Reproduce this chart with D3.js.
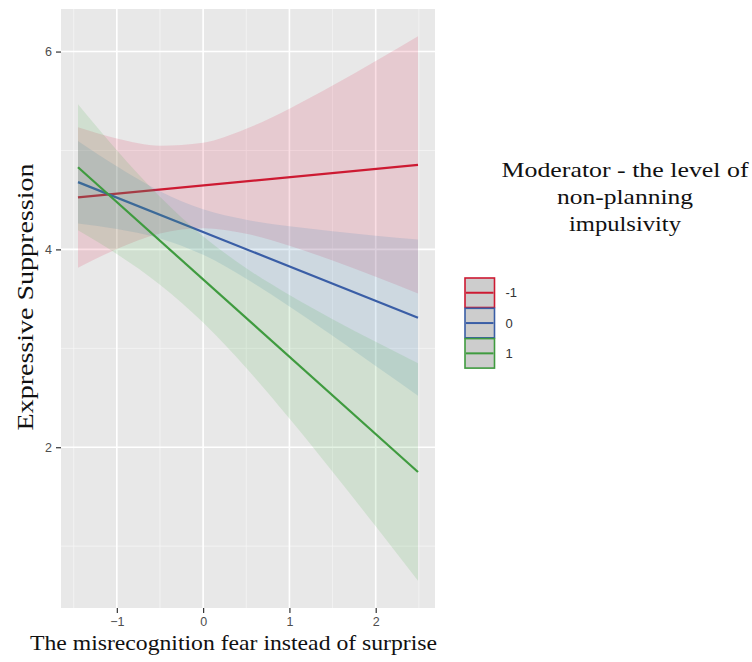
<!DOCTYPE html>
<html>
<head>
<meta charset="utf-8">
<script src="https://cdn.jsdelivr.net/npm/d3@7"></script>
<style>
  body { margin: 0; background: #fff; }
  svg { display: block; }
</style>
</head>
<body>
<svg id="chart" width="752" height="662"></svg>
<script>
// Moderator levels, line colours and band fills
const groups = ["-1", "0", "1"];
const groupColors = ["#CD1A32", "#3A5EA6", "#3F9B3F"];
const bandFills = ["#E0244A", "#377EB8", "#4DAF4A"];

// Fitted regression lines (start and end of the observed predictor range)
const fitX = [-1.45, 2.49];
const fitMinus1 = [4.525, 4.855];
const fitZero = [4.68, 3.31];
const fitPlus1 = [4.83, 1.75];

// Confidence bands sampled along the predictor
const bandX = [-1.45, -1, -0.5, 0, 0.5, 1, 1.5, 2, 2.49];
const lowerMinus1 = [3.814, 4.004, 4.160, 4.214, 4.158, 4.038, 3.887, 3.723, 3.555];
const upperMinus1 = [5.236, 5.122, 5.049, 5.079, 5.219, 5.423, 5.657, 5.905, 6.155];
const lowerZero = [4.263, 4.206, 4.111, 3.945, 3.704, 3.423, 3.126, 2.821, 2.520];
const upperZero = [5.097, 4.841, 4.589, 4.406, 4.300, 4.233, 4.183, 4.139, 4.100];
const lowerPlus1 = [4.193, 3.953, 3.643, 3.260, 2.801, 2.291, 1.753, 1.200, 0.650];
const upperPlus1 = [5.468, 5.003, 4.532, 4.133, 3.810, 3.539, 3.295, 3.066, 2.850];

// Axis ticks
const xTicks = [-1, 0, 1, 2];
const yTicks = [2, 4, 6];
const xMinor = [-1.5, -0.5, 0.5, 1.5, 2.5];
const yMinor = [1, 3, 5];

const xTitle = "The misrecognition fear instead of surprise";
const yTitle = "Expressive Suppression";
const legendTitle = ["Moderator - the level of", "non-planning", "impulsivity"];

const series = [
  { key: groups[0], color: groupColors[0], fill: bandFills[0], fit: fitMinus1, lower: lowerMinus1, upper: upperMinus1 },
  { key: groups[1], color: groupColors[1], fill: bandFills[1], fit: fitZero, lower: lowerZero, upper: upperZero },
  { key: groups[2], color: groupColors[2], fill: bandFills[2], fit: fitPlus1, lower: lowerPlus1, upper: upperPlus1 }
];

const svg = d3.select("#chart");
const panel = { left: 61, top: 9, right: 435, bottom: 608 };

// ggplot-style 5% expansion of the data range
function expand([a, b], f = 0.05) {
  const d = (b - a) * f;
  return [a - d, b + d];
}
const xDomain = expand(d3.extent(bandX));
const yDomain = expand([
  d3.min(series, s => d3.min(s.lower)),
  d3.max(series, s => d3.max(s.upper))
]);

const x = d3.scaleLinear().domain(xDomain).range([panel.left, panel.right]);
const y = d3.scaleLinear().domain(yDomain).range([panel.bottom, panel.top]);

// Panel background and grid
svg.append("rect")
  .attr("x", panel.left).attr("y", panel.top)
  .attr("width", panel.right - panel.left)
  .attr("height", panel.bottom - panel.top)
  .attr("fill", "#E8E8E8");

const grid = svg.append("g");
grid.selectAll(".vminor").data(xMinor.filter(v => x(v) > panel.left && x(v) < panel.right))
  .join("line")
  .attr("x1", d => x(d)).attr("x2", d => x(d))
  .attr("y1", panel.top).attr("y2", panel.bottom)
  .attr("stroke", "#F5F5F5").attr("stroke-width", 0.8);
grid.selectAll(".hminor").data(yMinor.filter(v => y(v) > panel.top && y(v) < panel.bottom))
  .join("line")
  .attr("y1", d => y(d)).attr("y2", d => y(d))
  .attr("x1", panel.left).attr("x2", panel.right)
  .attr("stroke", "#F5F5F5").attr("stroke-width", 0.8);
grid.selectAll(".vmajor").data(xTicks)
  .join("line")
  .attr("x1", d => x(d)).attr("x2", d => x(d))
  .attr("y1", panel.top).attr("y2", panel.bottom)
  .attr("stroke", "#FFFFFF").attr("stroke-width", 1.6);
grid.selectAll(".hmajor").data(yTicks)
  .join("line")
  .attr("y1", d => y(d)).attr("y2", d => y(d))
  .attr("x1", panel.left).attr("x2", panel.right)
  .attr("stroke", "#FFFFFF").attr("stroke-width", 1.6);

// Clip marks to the panel
svg.append("clipPath").attr("id", "panel-clip")
  .append("rect")
  .attr("x", panel.left).attr("y", panel.top)
  .attr("width", panel.right - panel.left)
  .attr("height", panel.bottom - panel.top);

const marks = svg.append("g").attr("clip-path", "url(#panel-clip)");

const area = d3.area()
  .x((d, i) => x(bandX[i]))
  .y0(d => y(d[0]))
  .y1(d => y(d[1]))
  .curve(d3.curveMonotoneX);

const line = d3.line()
  .x((d, i) => x(fitX[i]))
  .y(d => y(d));

series.forEach(s => {
  const band = s.lower.map((lo, i) => [lo, s.upper[i]]);
  marks.append("path")
    .datum(band)
    .attr("d", area)
    .attr("fill", s.fill)
    .attr("fill-opacity", 0.15);
  marks.append("path")
    .datum(s.fit)
    .attr("d", line)
    .attr("fill", "none")
    .attr("stroke", s.color)
    .attr("stroke-width", 2.2);
});

// Axes
const xAxis = svg.append("g")
  .attr("transform", `translate(0,${panel.bottom})`)
  .call(d3.axisBottom(x).tickValues(xTicks).tickSize(5).tickPadding(4).tickFormat(d3.format("d")));
const yAxis = svg.append("g")
  .attr("transform", `translate(${panel.left},0)`)
  .call(d3.axisLeft(y).tickValues(yTicks).tickSize(5).tickPadding(4).tickFormat(d3.format("d")));

[xAxis, yAxis].forEach(ax => {
  ax.select(".domain").remove();
  ax.selectAll(".tick line").attr("stroke", "#333333").attr("stroke-width", 1.2);
  ax.selectAll(".tick text")
    .attr("fill", "#4D4D4D")
    .style("font-family", "'Liberation Sans', Arial, sans-serif")
    .style("font-size", "12.5px");
});
xAxis.selectAll(".tick text").attr("dy", "0.75em");

// Axis titles
const serif = "'Liberation Serif', 'Times New Roman', serif";
svg.append("text")
  .attr("x", 233.5).attr("y", 650)
  .attr("text-anchor", "middle")
  .attr("textLength", 407).attr("lengthAdjust", "spacingAndGlyphs")
  .style("font-family", serif).style("font-size", "21px")
  .attr("fill", "#111")
  .text(xTitle);

svg.append("text")
  .attr("transform", "translate(33,297) rotate(-90)")
  .attr("text-anchor", "middle")
  .attr("textLength", 267).attr("lengthAdjust", "spacingAndGlyphs")
  .style("font-family", serif).style("font-size", "23px")
  .attr("fill", "#111")
  .text(yTitle);

// Legend
const legend = svg.append("g");
const titleWidths = [247, 136, 112];
const titleBaselines = [177, 204, 231];
legendTitle.forEach((t, i) => {
  legend.append("text")
    .attr("x", 625).attr("y", titleBaselines[i])
    .attr("text-anchor", "middle")
    .attr("textLength", titleWidths[i]).attr("lengthAdjust", "spacingAndGlyphs")
    .style("font-family", serif).style("font-size", "21px")
    .attr("fill", "#111")
    .text(t);
});

const keyX = 465, keyY = 278, keySize = 29.5;
const keys = legend.selectAll(".key").data(series).join("g")
  .attr("transform", (d, i) => `translate(${keyX},${keyY + i * (keySize + 0.8)})`);
keys.append("rect")
  .attr("width", keySize).attr("height", keySize)
  .attr("fill", "#CDCDCD")
  .attr("stroke", d => d.color).attr("stroke-width", 1.6);
keys.append("line")
  .attr("x1", 1).attr("x2", keySize - 1)
  .attr("y1", keySize / 2).attr("y2", keySize / 2)
  .attr("stroke", d => d.color).attr("stroke-width", 2);
keys.append("text")
  .attr("x", keySize + 11).attr("y", keySize / 2)
  .attr("dy", "0.36em")
  .style("font-family", "'Liberation Sans', Arial, sans-serif")
  .style("font-size", "13px")
  .attr("fill", "#333")
  .text(d => d.key);
</script>
</body>
</html>
